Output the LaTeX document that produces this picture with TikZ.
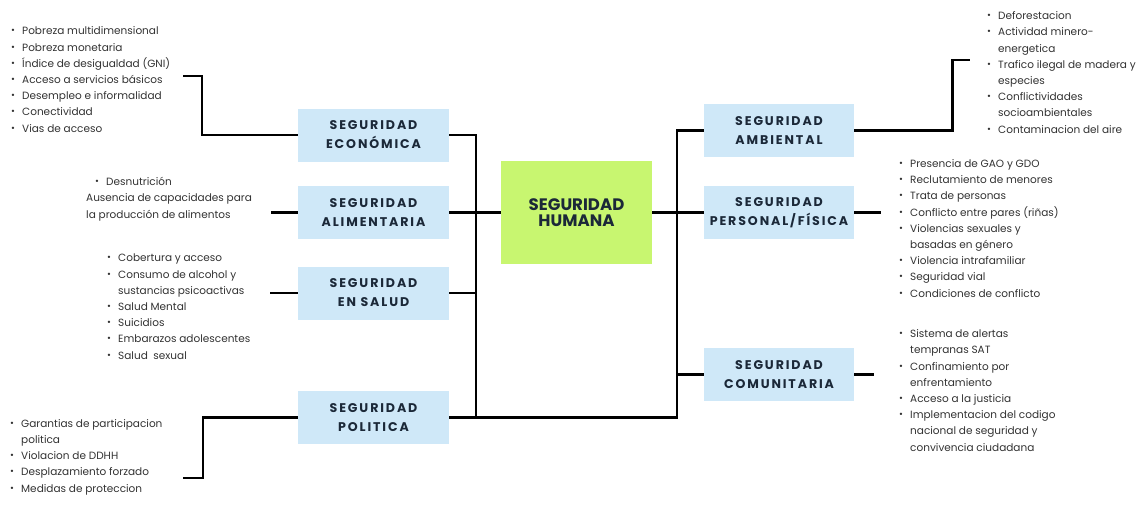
\documentclass[tikz,border=0pt]{standalone}
\usepackage{fontspec}
\usepackage{graphicx}
\setmainfont{Poppins}
\newfontfamily\headfont[LetterSpace=15]{Poppins}
\definecolor{azul}{RGB}{207,232,248}
\definecolor{lima}{RGB}{200,246,112}
\definecolor{marino}{RGB}{27,40,56}
\definecolor{gris}{RGB}{50,50,50}
\newcommand{\bul}{\makebox[11pt][l]{\raisebox{.15ex}{\scalebox{.9}{•}}}}
\newcommand{\cont}{\hspace*{11pt}}
\begin{document}
\begin{tikzpicture}[x=1pt,y=-1pt,
    caja/.style={fill=azul, minimum width=151pt, minimum height=53pt, inner sep=0pt,
      align=center, text=marino, font=\headfont\bfseries\fontsize{12.6}{19}\selectfont},
    lista/.style={anchor=base west, inner sep=0pt, align=left, text=gris,
      font=\fontsize{10.5}{16.2}\selectfont},
    enlace/.style={line width=2.6pt, black}]
  \useasboundingbox (0,0) rectangle (1142,504);

  % cajas
  \node[caja] (econ) at (373.5,135) {SEGURIDAD\\ECONÓMICA};
  \node[caja] (alim) at (373.5,212.5) {SEGURIDAD\\ALIMENTARIA};
  \node[caja] (salud) at (373.5,293) {SEGURIDAD\\EN SALUD};
  \node[caja] (pol) at (373.5,417.5) {SEGURIDAD\\POLITICA};
  \node[caja, minimum height=103pt, fill=lima, font=\bfseries\fontsize{16.6}{16.5}\selectfont] (hum) at (576.5,212.5) {SEGURIDAD\\HUMANA};
  \node[caja, minimum width=150pt] (amb) at (779,130.5) {SEGURIDAD\\AMBIENTAL};
  \node[caja, minimum width=150pt] (pers) at (779,212.5) {SEGURIDAD\\PERSONAL/FÍSICA};
  \node[caja, minimum width=150pt] (com) at (779,374.5) {SEGURIDAD\\COMUNITARIA};

  % listas (base = ultima linea)
  \node[lista] (econL) at (11,132) {\bul Pobreza multidimensional\\\bul Pobreza monetaria\\\bul Índice de desigualdad (GNI)\\\bul Acceso a servicios básicos\\\bul Desempleo e informalidad\\\bul Conectividad\\\bul Vias de acceso};
  \node[lista] (alimL) at (86,218) {\hspace*{9pt}\bul Desnutrición\\Ausencia de capacidades para\\la producción de alimentos};
  \node[lista] (saludL) at (107,359) {\bul Cobertura y acceso\\\bul Consumo de alcohol y\\\cont sustancias psicoactivas\\\bul Salud Mental\\\bul Suicidios\\\bul Embarazos adolescentes\\\bul Salud\ \ sexual};
  \node[lista] (polL) at (10,492) {\bul Garantias de participacion\\\cont politica\\\bul Violacion de DDHH\\\bul Desplazamiento forzado\\\bul Medidas de proteccion};
  \node[lista] (ambL) at (987,133) {\bul Deforestacion\\\bul Actividad minero-\\\cont energetica\\\bul Trafico ilegal de madera y\\\cont especies\\\bul Conflictividades\\\cont socioambientales\\\bul Contaminacion del aire};
  \node[lista] (persL) at (899,297) {\bul Presencia de GAO y GDO\\\bul Reclutamiento de menores\\\bul Trata de personas\\\bul Conflicto entre pares (riñas)\\\bul Violencias sexuales y\\\cont basadas en género\\\bul Violencia intrafamiliar\\\bul Seguridad vial\\\bul Condiciones de conflicto};
  \node[lista] (comL) at (899,451) {\bul Sistema de alertas\\\cont tempranas SAT\\\bul Confinamiento por\\\cont enfrentamiento\\\bul Acceso a la justicia\\\bul Implementacion del codigo\\\cont nacional de seguridad y\\\cont convivencia ciudadana};

  % extremos libres
  \coordinate (lt) at (476,0);
  \coordinate (rt) at (677,0);
  \coordinate (econE) at (183,76);
  \coordinate (alimE) at (271,212.5);
  \coordinate (saludE) at (270,293);
  \coordinate (polE) at (183,478);
  \coordinate (ambE) at (970,60);
  \coordinate (persE) at (881,212.5);
  \coordinate (comE) at (874,374.5);

  % conectores
  \draw[enlace] (econ.east) -| (pol.east -| lt);
  \draw[enlace] (pol.east) -| (amb.west -| rt) -- (amb.west);
  \draw[enlace] (alim.east) -- (hum.west);
  \draw[enlace] (salud.east) -- (salud.east -| lt);
  \draw[enlace] (hum.east) -- (pers.west);
  \draw[enlace] (com.west) -- (com.west -| rt);
  \draw[enlace] (econE) -- ++(19,0) |- (econ.west);
  \draw[enlace] (alimE) -- (alim.west);
  \draw[enlace] (saludE) -- (salud.west);
  \draw[enlace] (polE) -- ++(20,0) |- (pol.west);
  \draw[enlace] (amb.east) -- ++(98,0) |- (ambE);
  \draw[enlace] (pers.east) -- (persE);
  \draw[enlace] (com.east) -- (comE);
\end{tikzpicture}
\end{document}
